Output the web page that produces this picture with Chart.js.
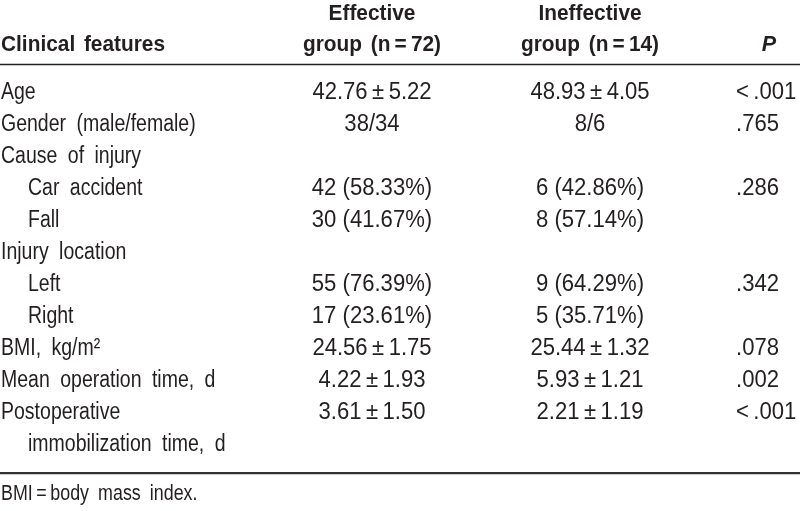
<!DOCTYPE html>
<html><head><meta charset="utf-8">
<script src="https://cdn.jsdelivr.net/npm/chart.js@4/dist/chart.umd.min.js"></script>
<style>html,body{margin:0;padding:0;background:#fff}canvas{display:block}</style>
</head><body><canvas id="c" width="800" height="511"></canvas>
<script>
// ---- table content ----
const headerTop = ["", "Effective", "Ineffective", ""];
const headerBottom = ["Clinical features", "group (n\u2009=\u200972)", "group (n\u2009=\u200914)", "P"];
const features = ["Age", "Gender (male/female)", "Cause of injury", "Car accident", "Fall",
  "Injury location", "Left", "Right", "BMI, kg/m\u00B2", "Mean operation time, d",
  "Postoperative", "immobilization time, d"];
const indented = [false, false, false, true, true, false, true, true, false, false, false, true];
const effectiveGroup = ["42.76\u2009\u00B1\u20095.22", "38/34", "", "42 (58.33%)", "30 (41.67%)", "",
  "55 (76.39%)", "17 (23.61%)", "24.56\u2009\u00B1\u20091.75", "4.22\u2009\u00B1\u20091.93", "3.61\u2009\u00B1\u20091.50", ""];
const ineffectiveGroup = ["48.93\u2009\u00B1\u20094.05", "8/6", "", "6 (42.86%)", "8 (57.14%)", "",
  "9 (64.29%)", "5 (35.71%)", "25.44\u2009\u00B1\u20091.32", "5.93\u2009\u00B1\u20091.21", "2.21\u2009\u00B1\u20091.19", ""];
const pValues = ["<\u2009.001", ".765", "", ".286", "", "", ".342", "", ".078", ".002", "<\u2009.001", ""];
const footnote = "BMI\u2009=\u2009body mass index.";

// ---- layout (positions / styles) ----
const FONT = "'Liberation Sans', Arial, sans-serif";
const TEXT = "#231f20";
const colX = [1, 372, 590, 736];
const pHeadX = 769;
const indentX = 28;
const headerRowsY = [-2.47, -1.5];
const headRuleY = -0.83, bottomRuleY = 11.94, footY = 12.53;
const STYLES = {
  label: {font: "23.5px " + FONT, sx: 0.83, ws: "6px", cap: 8.4},
  foot:  {font: "21.5px " + FONT, sx: 0.83, ws: "5px", cap: 7.7},
  num:   {font: "23.5px " + FONT, sx: 0.94, ws: "0px", cap: 8.4},
  head:  {font: "bold 21.5px " + FONT, sx: 0.97, ws: "3px", cap: 7.7},
  headP: {font: "italic bold 21.5px " + FONT, sx: 1, ws: "0px", cap: 7.7}
};

const cellPoints = [];
features.forEach((t, i) => cellPoints.push({x: indented[i] ? indentX : colX[0], y: i, text: t, align: "left", kind: "label"}));
effectiveGroup.forEach((t, i) => t && cellPoints.push({x: colX[1], y: i, text: t, align: "center", kind: "num"}));
ineffectiveGroup.forEach((t, i) => t && cellPoints.push({x: colX[2], y: i, text: t, align: "center", kind: "num"}));
pValues.forEach((t, i) => t && cellPoints.push({x: colX[3], y: i, text: t, align: "left", kind: "num"}));
cellPoints.push({x: colX[0], y: footY, text: footnote, align: "left", kind: "foot"});

const headPoints = [];
headerTop.forEach((t, c) => t && headPoints.push({x: colX[c], y: headerRowsY[0], text: t, align: "center", kind: "head"}));
headerBottom.forEach((t, c) => headPoints.push({x: c === 3 ? pHeadX : colX[c], y: headerRowsY[1], text: t,
  align: c === 0 ? "left" : "center", kind: c === 3 ? "headP" : "head"}));

const textPlugin = {
  id: "cellText",
  afterDatasetsDraw(chart) {
    const ctx = chart.ctx;
    chart.data.datasets.forEach((ds, di) => {
      if (!ds.isCells) return;
      const meta = chart.getDatasetMeta(di);
      meta.data.forEach((el, k) => {
        const p = ds.data[k];
        const st = STYLES[p.kind];
        ctx.save();
        ctx.fillStyle = TEXT;
        ctx.font = st.font;
        ctx.textBaseline = "alphabetic";
        ctx.textAlign = p.align;
        if ("wordSpacing" in ctx) ctx.wordSpacing = st.ws;
        ctx.translate(el.x, el.y + st.cap);
        ctx.scale(st.sx, 1);
        ctx.fillText(p.text, 0, 0);
        ctx.restore();
      });
    });
  }
};

new Chart(document.getElementById("c"), {
  type: "scatter",
  data: {
    datasets: [
      {isCells: true, data: cellPoints, pointRadius: 0, pointHoverRadius: 0},
      {isCells: true, data: headPoints, pointRadius: 0, pointHoverRadius: 0},
      {type: "line", data: [{x: 0, y: headRuleY}, {x: 800, y: headRuleY}], borderColor: TEXT, borderWidth: 1.6, pointRadius: 0},
      {type: "line", data: [{x: 0, y: bottomRuleY}, {x: 800, y: bottomRuleY}], borderColor: "#333", borderWidth: 2.2, pointRadius: 0}
    ]
  },
  options: {
    responsive: false, animation: false, events: [],
    layout: {padding: 0},
    plugins: {legend: {display: false}, tooltip: {enabled: false}},
    scales: {
      x: {type: "linear", min: 0, max: 800, display: false},
      y: {type: "linear", min: -2.844, max: 13.125, reverse: true, display: false}
    }
  },
  plugins: [textPlugin]
});
</script></body></html>
